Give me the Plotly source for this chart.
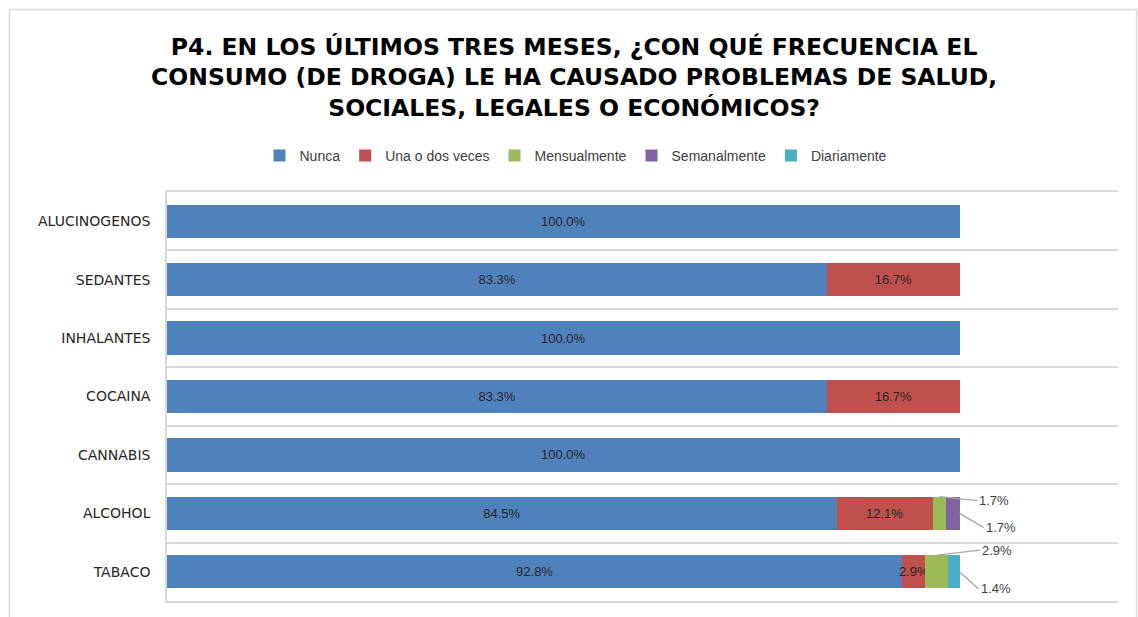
import plotly.graph_objects as go

categories = ["ALUCINOGENOS", "SEDANTES", "INHALANTES", "COCAINA", "CANNABIS", "ALCOHOL", "TABACO"]
series_names = ["Nunca", "Una o dos veces", "Mensualmente", "Semanalmente", "Diariamente"]
nunca = [100.0, 83.3, 100.0, 83.3, 100.0, 84.5, 92.8]
una_o_dos = [0, 16.7, 0, 16.7, 0, 12.1, 2.9]
mensual = [0, 0, 0, 0, 0, 1.7, 2.9]
semanal = [0, 0, 0, 0, 0, 1.7, 0]
diario = [0, 0, 0, 0, 0, 0, 1.4]
colors = ["#4F81BD", "#C0504D", "#9BBB59", "#8064A2", "#4BACC6"]

# labels placed outside with leader lines: (series index, category index, anchor, dx, dy)
outside = [(2, 5, "top", 38, 4), (3, 5, "end", 24, 14), (2, 6, "top", 43, -5), (4, 6, "end", 19, 17)]

W, H = 1138, 617
ML, MR, MT, MB = 167, 20, 192, 16
BAR_W = 0.57

all_series = [nunca, una_o_dos, mensual, semanal, diario]
n = len(categories)
ypos = [n - 1 - i for i in range(n)]  # first category on top

fig = go.Figure()
outside_set = {(s, c) for s, c, _, _, _ in outside}
for si, (name, vals, col) in enumerate(zip(series_names, all_series, colors)):
    texts = []
    for ci, v in enumerate(vals):
        if v > 0 and (si, ci) not in outside_set:
            texts.append(f"{v:.1f}%")
        else:
            texts.append("")
    fig.add_trace(go.Bar(
        name=name, y=ypos, x=[v / 100 for v in vals], orientation="h",
        marker=dict(color=col, line=dict(width=0)),
        text=texts, textposition="inside", insidetextanchor="middle",
        textangle=0, textfont=dict(size=13, color="#262626", family="Liberation Sans"),
        width=BAR_W, hoverinfo="skip",
    ))

# outside labels with leader lines
for si, ci, anchor, dx, dy in outside:
    vals = all_series[si]
    start = sum(all_series[k][ci] for k in range(si))
    if anchor == "top":
        tx, ty = (start + vals[ci] / 2) / 100, ypos[ci] + BAR_W / 2
    else:
        tx, ty = (start + vals[ci]) / 100, ypos[ci]
    fig.add_annotation(
        x=tx, y=ty, xref="x", yref="y",
        text=f"{vals[ci]:.1f}%", showarrow=True, arrowhead=0, arrowwidth=1.2,
        arrowcolor="#A6A6A6", ax=dx, ay=dy, xanchor="left",
        font=dict(size=13, color="#404040", family="Liberation Sans"),
    )

# chart border
pw = W - ML - MR
ph = H - MT - MB
fig.add_shape(type="rect", xref="paper", yref="paper",
              x0=(9.5 - ML) / pw, x1=(1136.5 - ML) / pw,
              y0=(H - MB - 640) / ph, y1=(H - MB - 9.5) / ph,
              line=dict(color="#D9D9D9", width=1.5), fillcolor="rgba(0,0,0,0)", layer="below")

fig.update_layout(
    width=W, height=H,
    margin=dict(l=ML, r=MR, t=MT, b=MB),
    barmode="stack",
    plot_bgcolor="white", paper_bgcolor="white",
    title=dict(
        text="P4. EN LOS ÚLTIMOS TRES MESES, ¿CON QUÉ FRECUENCIA EL<br>CONSUMO (DE DROGA) LE HA CAUSADO PROBLEMAS DE SALUD,<br>SOCIALES, LEGALES O ECONÓMICOS?",
        x=0.5045, xanchor="center", y=0.911, yanchor="top", yref="container",
        font=dict(size=23.5, family="DejaVu Sans", color="#000000", weight="bold"),
    ),
    legend=dict(orientation="h", x=(576 - ML) / pw, xanchor="center", y=(H - MB - 156) / ph, yanchor="middle",
                font=dict(size=14, family="Liberation Sans", color="#404040"),
                traceorder="normal", itemwidth=30, itemclick=False),
    xaxis=dict(range=[0, 1.2], showgrid=False, showticklabels=False, zeroline=False,
               showline=True, mirror=True, linecolor="#D9D9D9", linewidth=1.5, ticks=""),
    yaxis=dict(range=[-0.5, n - 0.5], tickvals=ypos, ticktext=categories,
               showgrid=False, zeroline=False, showline=True, linecolor="#D9D9D9", linewidth=1.5,
               ticks="", ticklen=0, ticklabelstandoff=12,
               tickfont=dict(size=14, family="DejaVu Sans", color="#262626"),
               minor=dict(tick0=-0.5, dtick=1, showgrid=True, gridcolor="#D9D9D9", gridwidth=1.5, ticks=""),
               fixedrange=True),
    showlegend=True,
    uniformtext=dict(minsize=13, mode="show"),
)

fig.write_html("out.html")
